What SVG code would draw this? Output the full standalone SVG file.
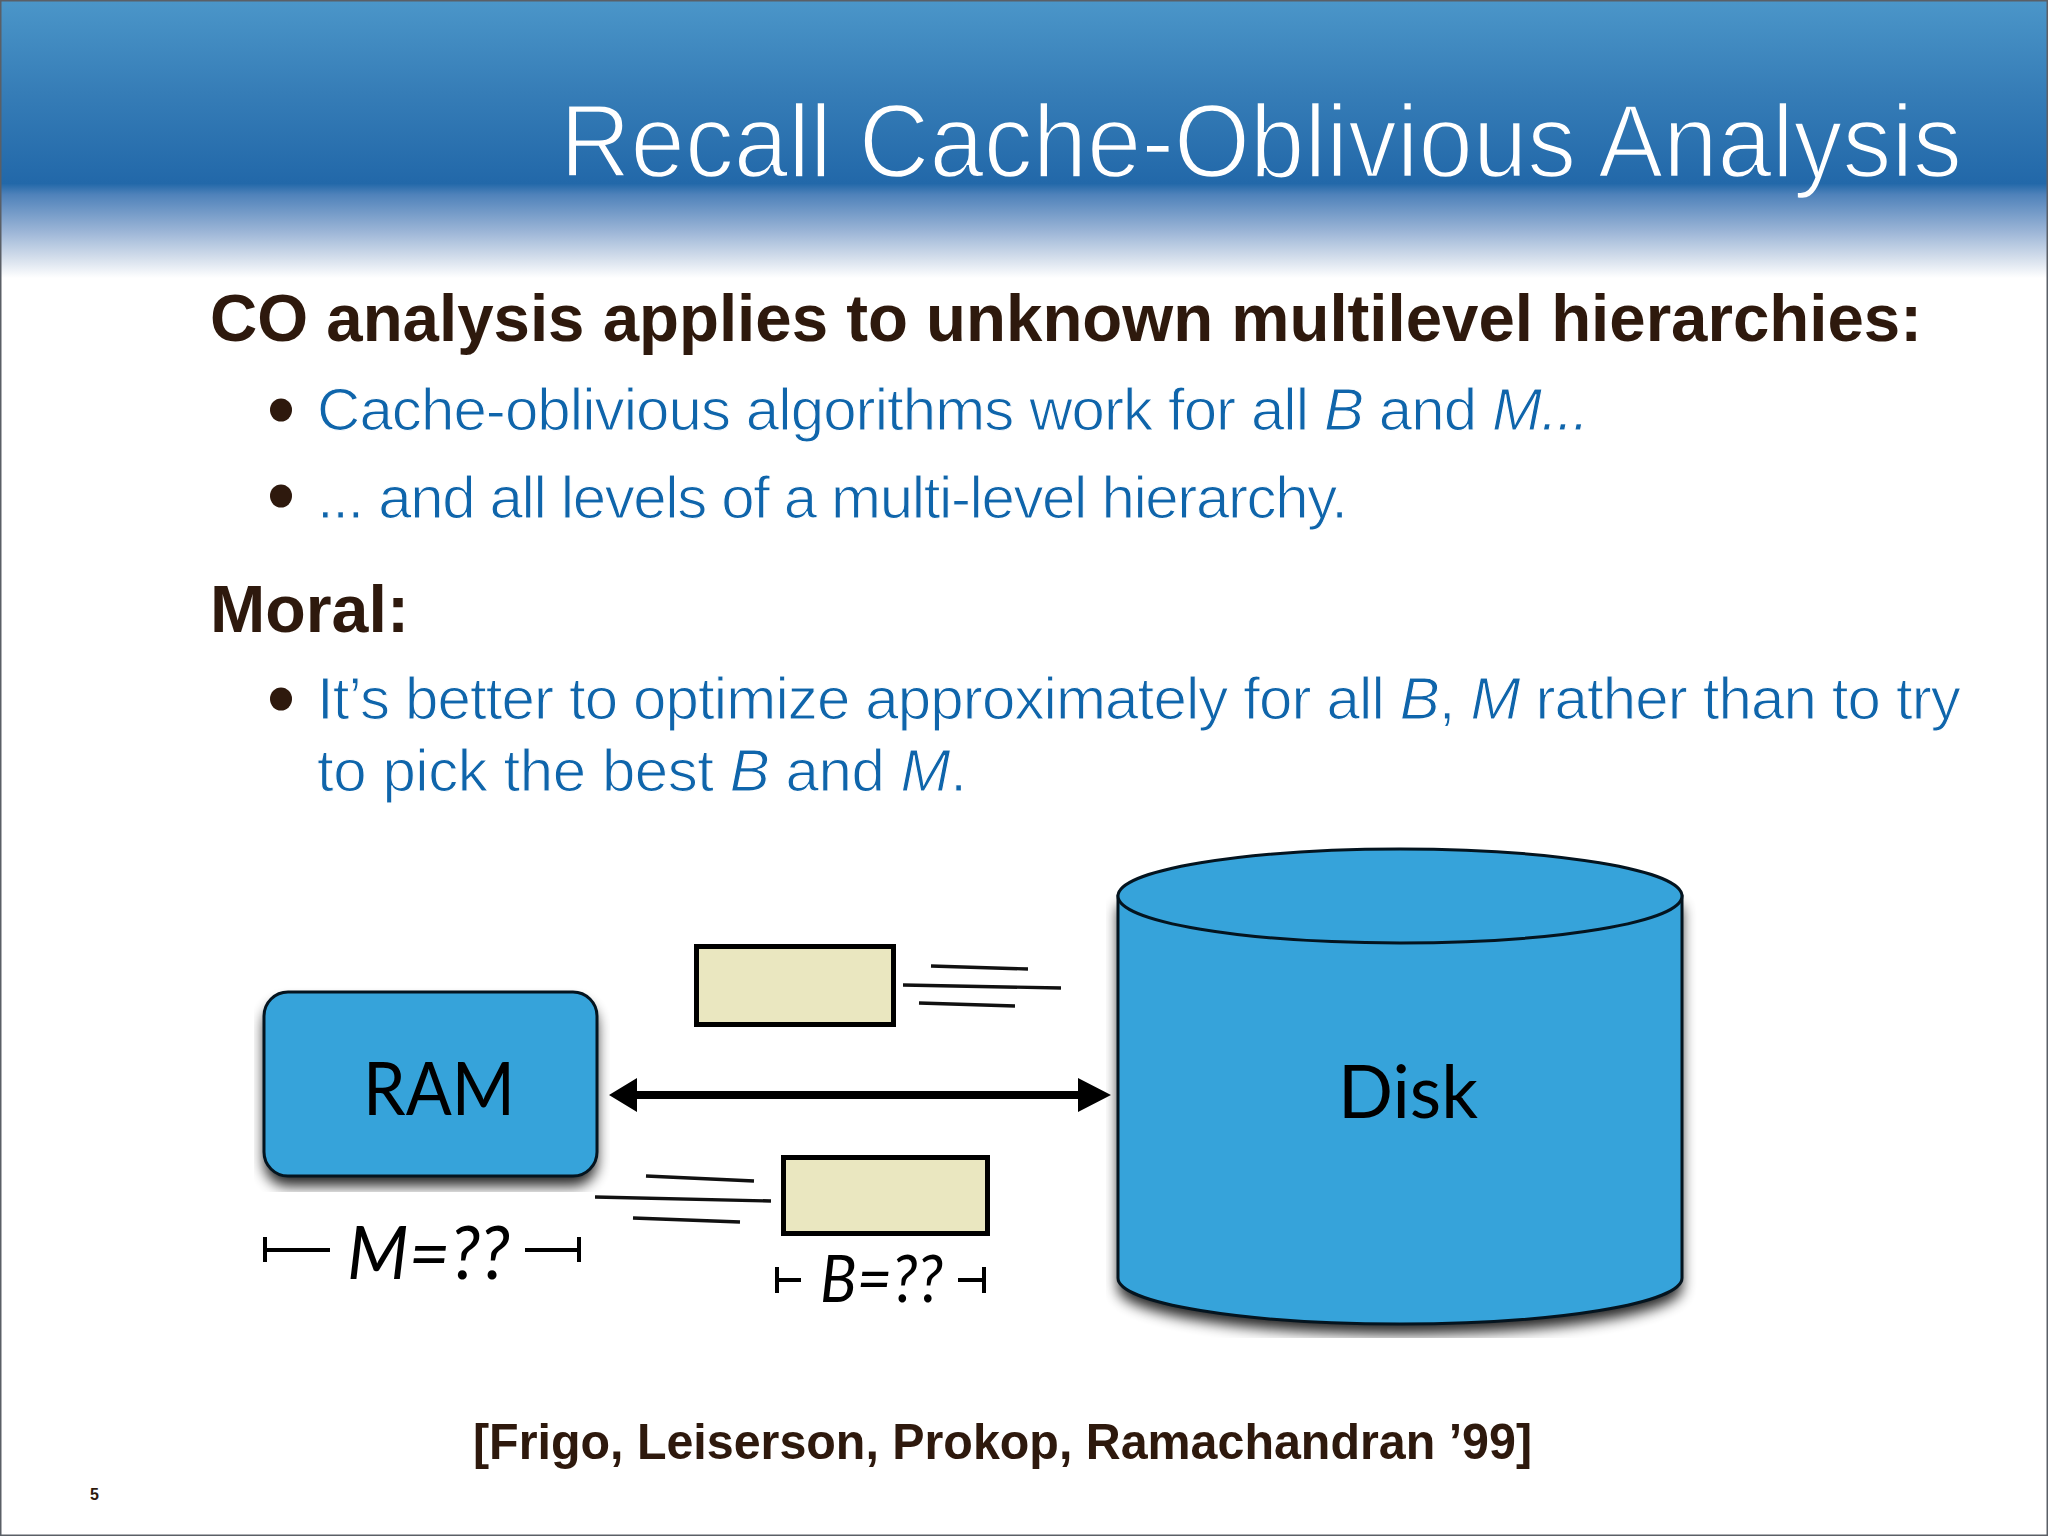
<svg xmlns="http://www.w3.org/2000/svg" width="2048" height="1536" viewBox="0 0 2048 1536">
<defs>
<linearGradient id="band" gradientUnits="userSpaceOnUse" x1="0" y1="0" x2="0" y2="278"><stop offset="0" stop-color="#4b96c9"/><stop offset="0.33" stop-color="#367db7"/><stop offset="0.66" stop-color="#2268a9"/><stop offset="0.7" stop-color="#4f82ba"/><stop offset="0.83" stop-color="#9ab4d6"/><stop offset="0.93" stop-color="#d5dfec"/><stop offset="1" stop-color="#ffffff"/></linearGradient>
<filter id="blur" x="-10%" y="-15%" width="120%" height="130%"><feGaussianBlur stdDeviation="7"/></filter>
<clipPath id="ramClip"><rect x="254" y="980" width="356" height="212"/></clipPath>
<clipPath id="diskClip"><rect x="1106" y="840" width="597" height="498"/></clipPath>
</defs>
<style>
.head{font-family:"Liberation Sans",Arial,sans-serif;font-weight:700;fill:#2e190d}
.body{font-family:"Liberation Sans",Arial,sans-serif;font-size:60px;fill:#0f65ab;stroke:#fff;stroke-width:1.1px}
.it{font-style:italic}
.gill{font-family:"Lato","Liberation Sans",sans-serif;fill:#000}
.fig{fill:#36a3da;stroke:#04141f;stroke-width:3}
.pkt{fill:#eae7c0;stroke:#000;stroke-width:5}
.spd{stroke:#111;stroke-width:3.4;fill:none}
.brk{stroke:#000;stroke-width:4;fill:none}
.dot{fill:#2e190d}
</style>
<rect width="2048" height="1536" fill="#ffffff"/>
<g id="header">
<rect x="0" y="0" width="2048" height="278" fill="url(#band)"/>
<text x="560" y="177" font-family="'Liberation Sans',Arial,sans-serif" font-size="103" fill="#fff" stroke="url(#band)" stroke-width="2.4" textLength="1402" lengthAdjust="spacingAndGlyphs">Recall Cache-Oblivious Analysis</text>
</g>
<g id="content">
<text class="head" x="210" y="341" font-size="66" textLength="1712" lengthAdjust="spacingAndGlyphs">CO analysis applies to unknown multilevel hierarchies:</text>
<ellipse class="dot" cx="281" cy="410" rx="11" ry="11.5"/>
<text class="body" x="317" y="430" letter-spacing="-0.92">Cache-oblivious algorithms work for all <tspan class="it">B</tspan> and <tspan class="it">M...</tspan></text>
<ellipse class="dot" cx="281" cy="496" rx="11" ry="11.5"/>
<text class="body" x="317" y="518" letter-spacing="-1.37">... and all levels of a multi-level hierarchy.</text>
<text class="head" x="210" y="632" font-size="66" textLength="199" lengthAdjust="spacingAndGlyphs">Moral:</text>
<ellipse class="dot" cx="281" cy="699" rx="11" ry="11.5"/>
<text class="body" x="317" y="719" letter-spacing="-0.87">It’s better to optimize approximately for all <tspan class="it">B</tspan>, <tspan class="it">M</tspan> rather than to try</text>
<text class="body" x="317" y="791" letter-spacing="-0.44">to pick the best <tspan class="it">B</tspan> and <tspan class="it">M</tspan>.</text>
<text class="head" x="473" y="1459" font-size="50" textLength="1059" lengthAdjust="spacingAndGlyphs">[Frigo, Leiserson, Prokop, Ramachandran ’99]</text>
<text class="head" x="90" y="1500" font-size="16">5</text>
</g>
<g id="ram">
<g clip-path="url(#ramClip)"><rect x="264" y="1002" width="333" height="184" rx="24" fill="#000" opacity="0.85" filter="url(#blur)"/></g>
<rect class="fig" x="264" y="992" width="333" height="184" rx="24"/>
<text class="gill" x="363" y="1115" font-size="74" textLength="152" lengthAdjust="spacingAndGlyphs">RAM</text>
</g>
<g id="disk">
<g clip-path="url(#diskClip)"><path d="M1118 906V1288A282 46 0 0 0 1682 1288V906Z" fill="#000" opacity="0.85" filter="url(#blur)"/></g>
<path class="fig" d="M1118 896V1278A282 46 0 0 0 1682 1278V896Z"/>
<ellipse class="fig" cx="1400" cy="896" rx="282" ry="47"/>
<text class="gill" x="1338" y="1118" font-size="74" textLength="140" lengthAdjust="spacingAndGlyphs">Disk</text>
</g>
<g id="block-top">
<rect class="pkt" x="696.5" y="946.5" width="197" height="78"/>
<path class="spd" d="M931 966L1028 969M903 985L1061 988M919 1003L1015 1006"/>
</g>
<g id="block-bottom">
<rect class="pkt" x="783.5" y="1157.5" width="204" height="76"/>
<path class="spd" d="M646 1176L754 1181M595 1197L771 1201M633 1218L740 1222"/>
</g>
<g id="connectors">
<path d="M609 1095L637 1078V1091H1078V1078L1111 1095L1078 1112V1099H637V1112Z" fill="#000"/>
</g>
<g id="label-m">
<path class="brk" d="M265 1237V1262M265 1250H330M525 1250H579M579 1237V1262"/>
<text class="gill it" x="347" y="1279" font-size="74" textLength="163" lengthAdjust="spacingAndGlyphs">M=??</text>
</g>
<g id="label-b">
<path class="brk" d="M777 1267V1293M777 1280H801M958 1280H984M984 1267V1293"/>
<text class="gill it" x="820" y="1302" font-size="66" textLength="123" lengthAdjust="spacingAndGlyphs">B=??</text>
</g>
<rect x="0.75" y="0.75" width="2046.5" height="1534.5" fill="none" stroke="#5a5f66" stroke-width="1.5"/>
</svg>
